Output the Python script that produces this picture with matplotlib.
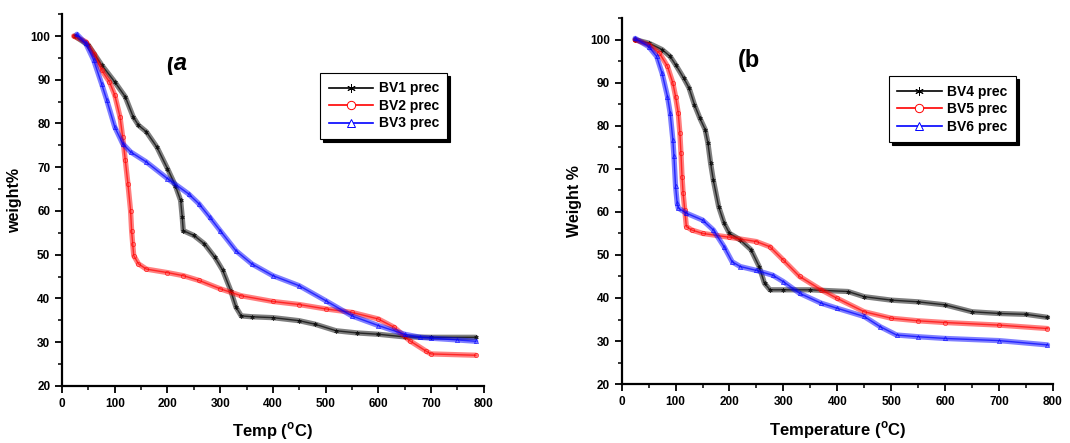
import matplotlib
matplotlib.use("Agg")
import matplotlib.pyplot as plt
from matplotlib.lines import Line2D
from matplotlib.patches import Rectangle
from matplotlib.ticker import MultipleLocator

plt.rcParams['font.family'] = ['Liberation Sans', 'DejaVu Sans']
plt.rcParams['font.weight'] = 'bold'
plt.rcParams['mathtext.fontset'] = 'custom'
plt.rcParams['mathtext.rm'] = 'Liberation Sans:bold'
plt.rcParams['mathtext.bf'] = 'Liberation Sans:bold'

# panel (a)
bv1_t = [24, 50, 75, 100, 120, 135, 145, 160, 180, 200, 215, 225, 228, 230, 250, 270, 290, 305,
         320, 330, 340, 360, 400, 450, 480, 520, 560, 600, 650, 700, 785]
bv1_w = [100, 97.9, 93.4, 89.5, 86.1, 81.5, 79.6, 78.1, 74.6, 69.7, 65.8, 62.4, 58.6, 55.5, 54.4,
         52.5, 49.4, 46.4, 41.8, 38.0, 36.0, 35.8, 35.6, 34.9, 34.1, 32.6, 32.1, 31.8, 31.2, 31.1, 31.1]
bv2_t = [22, 45, 60, 75, 90, 100, 110, 115, 120, 125, 130, 132, 134, 136, 145, 160, 200, 230, 260,
         300, 340, 400, 450, 500, 550, 600, 630, 660, 690, 700, 785]
bv2_w = [100, 98.7, 96.0, 92.2, 89.5, 86.5, 81.5, 76.9, 71.6, 66.2, 60.1, 55.5, 52.5, 49.8, 47.9,
         46.7, 45.9, 45.2, 44.1, 42.2, 40.6, 39.3, 38.6, 37.6, 36.8, 35.3, 33.4, 30.3, 28.0, 27.3, 27.0]
bv3_t = [28, 45, 60, 75, 85, 100, 115, 130, 160, 200, 240, 260, 280, 300, 330, 360, 400, 450, 500,
         550, 600, 650, 680, 700, 750, 785]
bv3_w = [100.4, 98.3, 94.5, 89.1, 85.3, 79.2, 75.4, 73.5, 71.2, 67.4, 63.9, 61.6, 58.6, 55.5, 50.9,
         47.9, 45.2, 42.9, 39.5, 36.0, 33.8, 31.8, 31.1, 30.9, 30.5, 30.2]

# panel (b)
bv4_t = [25, 50, 75, 90, 100, 115, 125, 135, 145, 155, 160, 165, 170, 180, 190, 200, 220, 240, 255,
         265, 275, 300, 350, 420, 450, 500, 550, 600, 650, 700, 750, 790]
bv4_w = [100, 99.2, 97.7, 96.1, 94.2, 91.1, 88.8, 84.9, 81.8, 79.1, 76.0, 71.3, 67.4, 61.2, 57.4,
         55.0, 53.5, 51.2, 47.3, 43.4, 41.9, 41.9, 41.9, 41.5, 40.3, 39.5, 39.1, 38.4, 36.8, 36.4,
         36.2, 35.5]
bv5_t = [25, 50, 70, 85, 95, 100, 105, 108, 110, 112, 114, 117, 120, 130, 150, 200, 250, 275, 300,
         330, 370, 400, 450, 500, 550, 600, 700, 790]
bv5_w = [100, 98.8, 96.9, 93.8, 89.9, 86.8, 82.9, 78.3, 73.6, 68.2, 64.3, 60.5, 56.6, 55.8, 55.0,
         54.1, 53.1, 51.9, 48.8, 45.0, 41.9, 39.9, 36.8, 35.3, 34.7, 34.3, 33.7, 32.9]
bv6_t = [25, 50, 65, 75, 85, 90, 95, 97, 100, 103, 105, 120, 150, 170, 190, 205, 220, 250, 280, 300,
         330, 370, 400, 450, 480, 510, 550, 600, 700, 790]
bv6_w = [100.3, 98.4, 96.1, 92.2, 86.8, 82.9, 76.7, 72.9, 65.9, 62.0, 60.9, 59.7, 58.1, 55.8, 51.9,
         48.4, 47.3, 46.4, 45.3, 43.8, 41.1, 38.8, 37.6, 35.7, 33.3, 31.4, 31.0, 30.6, 30.1, 29.1]

star = (6, 2, 0)
panels = [
    ([(bv1_t, bv1_w, 'black', star, 'BV1 prec'),
      (bv2_t, bv2_w, 'red', 'o', 'BV2 prec'),
      (bv3_t, bv3_w, 'blue', '^', 'BV3 prec')],
     r'Temp ($^{\mathbf{o}}$C)', 'weight%'),
    ([(bv4_t, bv4_w, 'black', star, 'BV4 prec'),
      (bv5_t, bv5_w, 'red', 'o', 'BV5 prec'),
      (bv6_t, bv6_w, 'blue', '^', 'BV6 prec')],
     r'Temperature ($^{\mathbf{o}}$C)', 'Weight %'),
]

fig = plt.figure(figsize=(10.7, 4.43), dpi=100)
ax1 = fig.add_axes([0.058, 0.129, 0.394, 0.839])
ax2 = fig.add_axes([0.581, 0.133, 0.403, 0.826])

for ax, (series, xlab, ylab) in zip([ax1, ax2], panels):
    handles = []
    for t, w, c, m, lab in series:
        ax.plot(t, w, color=c, lw=3.8, alpha=0.5, solid_capstyle='round', solid_joinstyle='round')
        ax.plot(t, w, color=c, lw=1.0, marker=m, mfc='none', mec=c, ms=3, mew=0.6, alpha=0.7)
        handles.append(Line2D([], [], color=c, lw=1.2, marker=m, mfc='white', mec=c, ms=6, mew=0.7,
                              label=lab))
    ax.set_xlim(0, 800)
    ax.set_ylim(20, 105)
    ax.xaxis.set_major_locator(MultipleLocator(100))
    ax.xaxis.set_minor_locator(MultipleLocator(50))
    ax.yaxis.set_major_locator(MultipleLocator(10))
    ax.yaxis.set_minor_locator(MultipleLocator(5))
    ax.spines['top'].set_visible(False)
    ax.spines['right'].set_visible(False)
    ax.spines['left'].set_linewidth(1.6)
    ax.spines['bottom'].set_linewidth(1.6)
    ax.tick_params(which='major', direction='out', length=5, width=1.3, labelsize=8.5)
    ax.tick_params(which='minor', direction='out', length=3, width=1.1)
    for lbl in ax.get_xticklabels() + ax.get_yticklabels():
        lbl.set_fontweight('bold')
    ax.set_xlabel(xlab, fontsize=12, fontweight='bold', labelpad=8)
    ax.set_ylabel(ylab, fontsize=11.5, fontweight='bold', labelpad=6)
    leg = ax.legend(handles=handles, loc='upper right', bbox_to_anchor=(0.93, 0.86),
                    prop={'weight': 'bold', 'size': 10}, frameon=True, fancybox=False,
                    shadow={'color': 'black', 'alpha': 1}, handlelength=3.2, borderpad=0.6,
                    labelspacing=0.25, handletextpad=0.4)
    leg.get_frame().set_edgecolor('black')
    leg.get_frame().set_linewidth(0.8)

# "(a" is cut off at the top in the original figure
ax1.text(218, 92.2, '(a', fontsize=17, fontweight='bold', fontstyle='italic',
         ha='center', va='baseline', zorder=3)
ax1.add_patch(Rectangle((180, 95.2), 80, 6, facecolor='white', edgecolor='none', zorder=4))
ax2.text(237, 95.1, '(b', fontsize=17, fontweight='bold', ha='center', va='center')

fig.savefig('out.png', dpi=100)
